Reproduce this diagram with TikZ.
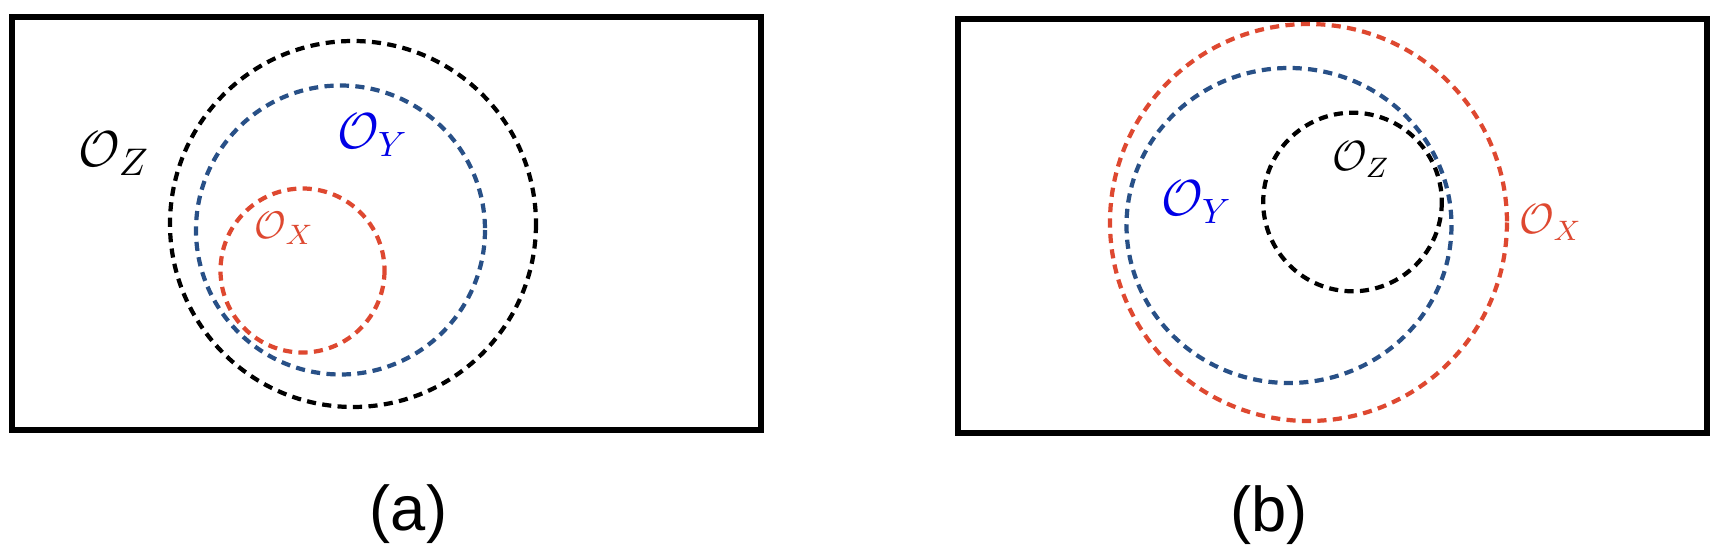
\documentclass[tikz,border=0pt]{standalone}
\usepackage{fontspec}
\newfontfamily\capfont{Liberation Sans}
\definecolor{redc}{RGB}{222,72,48}
\definecolor{bluec}{RGB}{40,80,135}
\definecolor{labblue}{RGB}{0,0,230}
\begin{document}
\begin{tikzpicture}[x=0.1mm,y=-0.1mm,
  frame/.style={line width=1.6pt,draw=black},
  dashc/.style={line width=1.2pt,dash pattern=on 2.6pt off 1.8pt},
  lab/.style={inner sep=0pt,anchor=base},
  captext/.style={inner sep=0pt,anchor=center,font=\capfont\fontsize{18}{20}\selectfont}]
\useasboundingbox[fill=white] (0,0) rectangle (1726,554);
% panel (a)
\draw[frame] (12,17) rectangle (761,430);
\draw[dashc,draw=black] (353,224) circle[radius=183];
\draw[dashc,draw=bluec] (340.5,230) circle[radius=144.5];
\draw[dashc,draw=redc] (302.5,270.5) circle[radius=82];
\node[lab,font=\fontsize{15.3}{16}\selectfont] (za) at (114,167) {$\mathcal{O}_Z$};
\node[lab,text=labblue,font=\fontsize{14.1}{15}\selectfont] (ya) at (373,149) {$\mathcal{O}_Y$};
\node[lab,text=redc,font=\fontsize{11.3}{12}\selectfont] (xa) at (284.5,239) {$\mathcal{O}_X$};
\node[captext] (capa) at (408.5,514) {(a)};
% panel (b)
\draw[frame] (958,19) rectangle (1707,433);
\draw[dashc,draw=redc] (1308.5,222.5) circle[radius=198.5];
\draw[dashc,draw=bluec] (1289,225.5) circle[x radius=162.5,y radius=157.5];
\draw[dashc,draw=black] (1352.5,202) circle[radius=89.3];
\node[lab,font=\fontsize{11.7}{12}\selectfont] (zb) at (1361,171) {$\mathcal{O}_Z$};
\node[lab,text=labblue,font=\fontsize{14.9}{16}\selectfont] (yb) at (1197,216) {$\mathcal{O}_Y$};
\node[lab,text=redc,font=\fontsize{12.1}{13}\selectfont] (xb) at (1551,234) {$\mathcal{O}_X$};
\node[captext] (capb) at (1269,515) {(b)};
\end{tikzpicture}
\end{document}
